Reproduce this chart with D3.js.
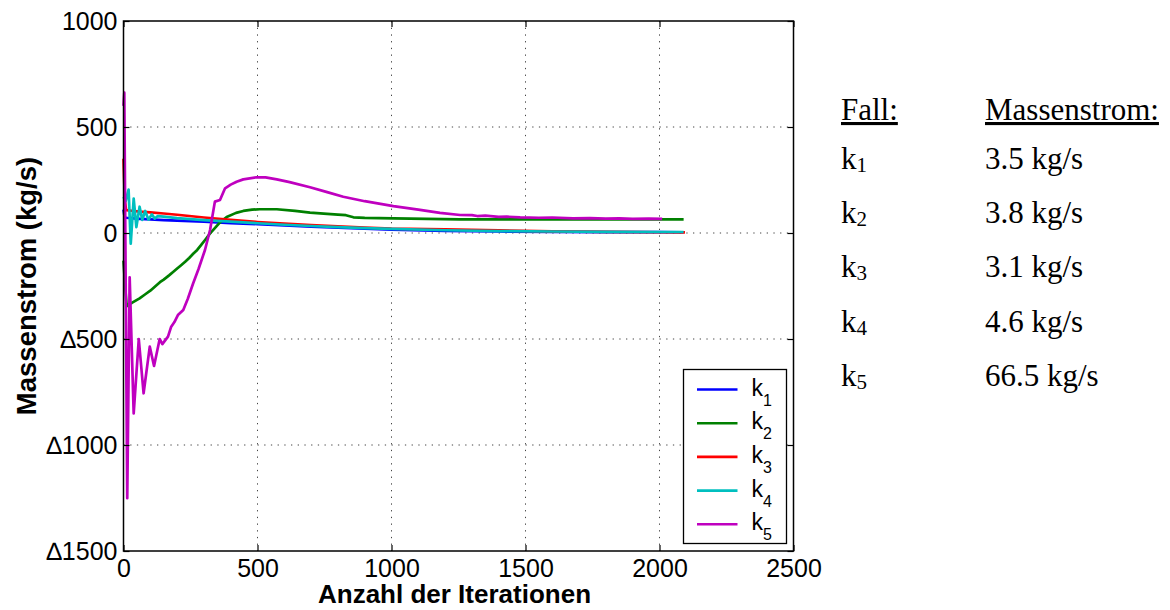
<!DOCTYPE html>
<html>
<head>
<meta charset="utf-8">
<script src="https://cdn.jsdelivr.net/npm/d3@7"></script>
<style>
  html, body { margin: 0; padding: 0; background: #fff; }
  svg { display: block; }
</style>
</head>
<body>
<svg id="chart" width="1170" height="610"></svg>
<script>
// Mass flow per case over the solver iterations
const seriesNames = ["k1", "k2", "k3", "k4", "k5"];
const seriesColors = ["#0000ff", "#008000", "#ff0000", "#00bfbf", "#bf00bf"];

const k1Iter = [0, 4, 10, 30, 60, 100, 150, 200, 300, 400, 500, 600, 700, 800, 900, 1000, 1200, 1400, 1600, 1800, 2000, 2090];
const k1Flow = [110, 75, 72, 70, 67, 64, 61, 58, 53, 47, 42, 36, 30, 25, 20, 16, 10, 7, 5.5, 4.5, 3.8, 3.5];

const k2Iter = [0, 6, 12, 22, 31, 60, 80, 100, 120, 136, 150, 170, 185, 198, 215, 230, 245, 260, 275, 290, 305, 323, 340, 360, 385, 420, 447, 480, 509, 572, 640, 696, 760, 800, 830, 858, 900, 1007, 1256, 1500, 1800, 2090];
const k2Flow = [-130, -250, -345, -335, -330, -308, -290, -272, -250, -232, -220, -200, -184, -170, -152, -136, -118, -98, -80, -56, -32, -2, 22, 50, 75, 95, 104, 110, 112, 112, 104, 96, 90, 87, 84, 74, 71, 69, 64, 64, 64, 64];

const k3Iter = [0, 5, 10, 30, 60, 100, 150, 200, 300, 400, 500, 600, 700, 800, 900, 1000, 1200, 1400, 1600, 1800, 2000, 2095];
const k3Flow = [350, 150, 108, 105, 101, 97, 92, 86, 73, 62, 52, 44, 37, 31, 26, 21, 17, 12, 8, 5.5, 3.6, 3.1];

const k4Iter = [0, 8, 19, 27, 38, 48, 60, 70, 81, 93, 106, 116, 128, 150, 200, 300, 400, 500, 600, 700, 800, 900, 1000, 1200, 1400, 1600, 1800, 2000, 2090];
const k4Flow = [170, 150, 205, -50, 162, 28, 124, 62, 104, 63, 88, 68, 80, 77, 70, 61, 54, 46, 39, 33, 28, 23, 19, 13, 9, 7, 5.5, 4.8, 4.6];

const k5Iter = [0, 3, 14, 23, 38, 57, 75, 98, 114, 135, 145, 166, 178, 190, 203, 223, 240, 260, 280, 304, 323, 341, 360, 379, 400, 422, 447, 497, 530, 572, 620, 696, 760, 820, 900, 1007, 1100, 1181, 1256, 1300, 1320, 1350, 1400, 1430, 1480, 1550, 1600, 1678, 1740, 1800, 1850, 1900, 1960, 2010];
const k5Flow = [600, 662, -1251, -209, -851, -500, -756, -536, -627, -500, -524, -489, -442, -420, -387, -363, -310, -237, -170, -80, 14, 148, 156, 211, 228, 242, 253, 263, 262, 253, 240, 216, 193, 171, 150, 127, 110, 95, 85, 84, 80, 82, 76, 77, 74, 72, 73, 69, 70, 68, 69, 67, 68, 66.5];

const seriesIter = [k1Iter, k2Iter, k3Iter, k4Iter, k5Iter];
const seriesFlow = [k1Flow, k2Flow, k3Flow, k4Flow, k5Flow];

const xTicks = [0, 500, 1000, 1500, 2000, 2500];
const xTickLabels = ["0", "500", "1000", "1500", "2000", "2500"];
const yTicks = [-1500, -1000, -500, 0, 500, 1000];
const yTickLabels = ["\u22061500", "\u22061000", "\u2206500", "0", "500", "1000"];

// Side table: case and mass flow
const tableHeads = ["Fall:", "Massenstrom:"];
const tableCases = ["1", "2", "3", "4", "5"];
const tableValues = ["3.5 kg/s", "3.8 kg/s", "3.1 kg/s", "4.6 kg/s", "66.5 kg/s"];

const svg = d3.select("#chart");
const plotLeft = 123.5, plotRight = 793.5, plotTop = 21, plotBottom = 551;

const x = d3.scaleLinear().domain([0, 2500]).range([plotLeft, plotRight]);
const y = d3.scaleLinear().domain([-1500, 1000]).range([plotBottom, plotTop]);

const sans = "'Liberation Sans', Arial, sans-serif";
const serif = "'Liberation Serif', 'Times New Roman', serif";

// dotted grid
const grid = svg.append("g");
xTicks.slice(1, -1).forEach(t => {
  grid.append("line").attr("x1", x(t)).attr("x2", x(t)).attr("y1", plotTop).attr("y2", plotBottom)
    .attr("stroke", "#444").attr("stroke-width", 1).attr("stroke-dasharray", "1.3,5.4");
});
yTicks.slice(1, -1).forEach(t => {
  grid.append("line").attr("x1", plotLeft).attr("x2", plotRight).attr("y1", y(t)).attr("y2", y(t))
    .attr("stroke", "#444").attr("stroke-width", 1).attr("stroke-dasharray", "1.3,5.4");
});

// series lines
const line = d3.line().x(d => x(d[0])).y(d => y(d[1]));
seriesNames.forEach((name, i) => {
  const pts = seriesIter[i].map((it, j) => [it, seriesFlow[i][j]]);
  svg.append("path").datum(pts)
    .attr("d", line)
    .attr("fill", "none")
    .attr("stroke", seriesColors[i])
    .attr("stroke-width", 2.7)
    .attr("stroke-linejoin", "round");
});

// axes (ticks pointing inward on all sides)
const tickLen = 6;
const xAxisB = d3.axisBottom(x).tickValues(xTicks).tickSizeInner(-tickLen).tickSizeOuter(0).tickFormat((d, i) => xTickLabels[i]).tickPadding(8.5);
const yAxisL = d3.axisLeft(y).tickValues(yTicks).tickSizeInner(-tickLen).tickSizeOuter(0).tickFormat((d, i) => yTickLabels[i]).tickPadding(6);
const xAxisT = d3.axisTop(x).tickValues(xTicks).tickSizeInner(-tickLen).tickSizeOuter(0).tickFormat("");
const yAxisR = d3.axisRight(y).tickValues(yTicks).tickSizeInner(-tickLen).tickSizeOuter(0).tickFormat("");

function styleAxis(g) {
  g.select(".domain").remove();
  g.selectAll("line").attr("stroke", "#000").attr("stroke-width", 1.2);
  g.selectAll("text").attr("fill", "#000").style("font-family", sans).style("font-size", "25px");
}
svg.append("g").attr("transform", `translate(0,${plotBottom})`).call(xAxisB).call(styleAxis);
svg.append("g").attr("transform", `translate(${plotLeft},0)`).call(yAxisL).call(styleAxis);
svg.append("g").attr("transform", `translate(0,${plotTop})`).call(xAxisT).call(styleAxis);
svg.append("g").attr("transform", `translate(${plotRight},0)`).call(yAxisR).call(styleAxis);

// frame
svg.append("rect").attr("x", plotLeft).attr("y", plotTop).attr("width", plotRight - plotLeft).attr("height", plotBottom - plotTop)
  .attr("fill", "none").attr("stroke", "#000").attr("stroke-width", 1.5);

// axis titles
svg.append("text").attr("x", (plotLeft + plotRight) / 2 - 4).attr("y", 603)
  .attr("text-anchor", "middle").style("font-family", sans).style("font-size", "26px").style("font-weight", "bold")
  .text("Anzahl der Iterationen");
svg.append("text").attr("transform", `translate(36,${(plotTop + plotBottom) / 2}) rotate(-90)`)
  .attr("text-anchor", "middle").style("font-family", sans).style("font-size", "27.5px").style("font-weight", "bold")
  .text("Massenstrom (kg/s)");

// legend
const lg = svg.append("g");
lg.append("rect").attr("x", 683.5).attr("y", 369.5).attr("width", 103).attr("height", 174)
  .attr("fill", "#fff").attr("stroke", "#000").attr("stroke-width", 1.3);
seriesNames.forEach((name, i) => {
  const cy = 389.5 + i * 33.7;
  lg.append("line").attr("x1", 697).attr("x2", 737.5).attr("y1", cy).attr("y2", cy)
    .attr("stroke", seriesColors[i]).attr("stroke-width", 2.6);
  const t = lg.append("text").attr("x", 751.5).attr("y", cy + 6)
    .style("font-family", sans).style("font-size", "23px").attr("fill", "#000");
  t.append("tspan").text(name.charAt(0));
  t.append("tspan").attr("dy", 10).style("font-size", "16px").text(name.slice(1));
});

// side table
const tb = svg.append("g").style("font-family", serif).attr("fill", "#000");
tb.append("text").attr("x", 841).attr("y", 120).style("font-size", "31px").text(tableHeads[0])
  .attr("text-decoration", "underline");
tb.append("text").attr("x", 985).attr("y", 120).style("font-size", "31px").text(tableHeads[1])
  .attr("text-decoration", "underline");
tableCases.forEach((c, i) => {
  const by = 169 + i * 54.2;
  const t = tb.append("text").attr("x", 841).attr("y", by).style("font-size", "31px");
  t.append("tspan").text("k");
  t.append("tspan").attr("dy", 3).style("font-size", "21px").text(c);
  tb.append("text").attr("x", 985).attr("y", by).style("font-size", "31px").text(tableValues[i]);
});
</script>
</body>
</html>
